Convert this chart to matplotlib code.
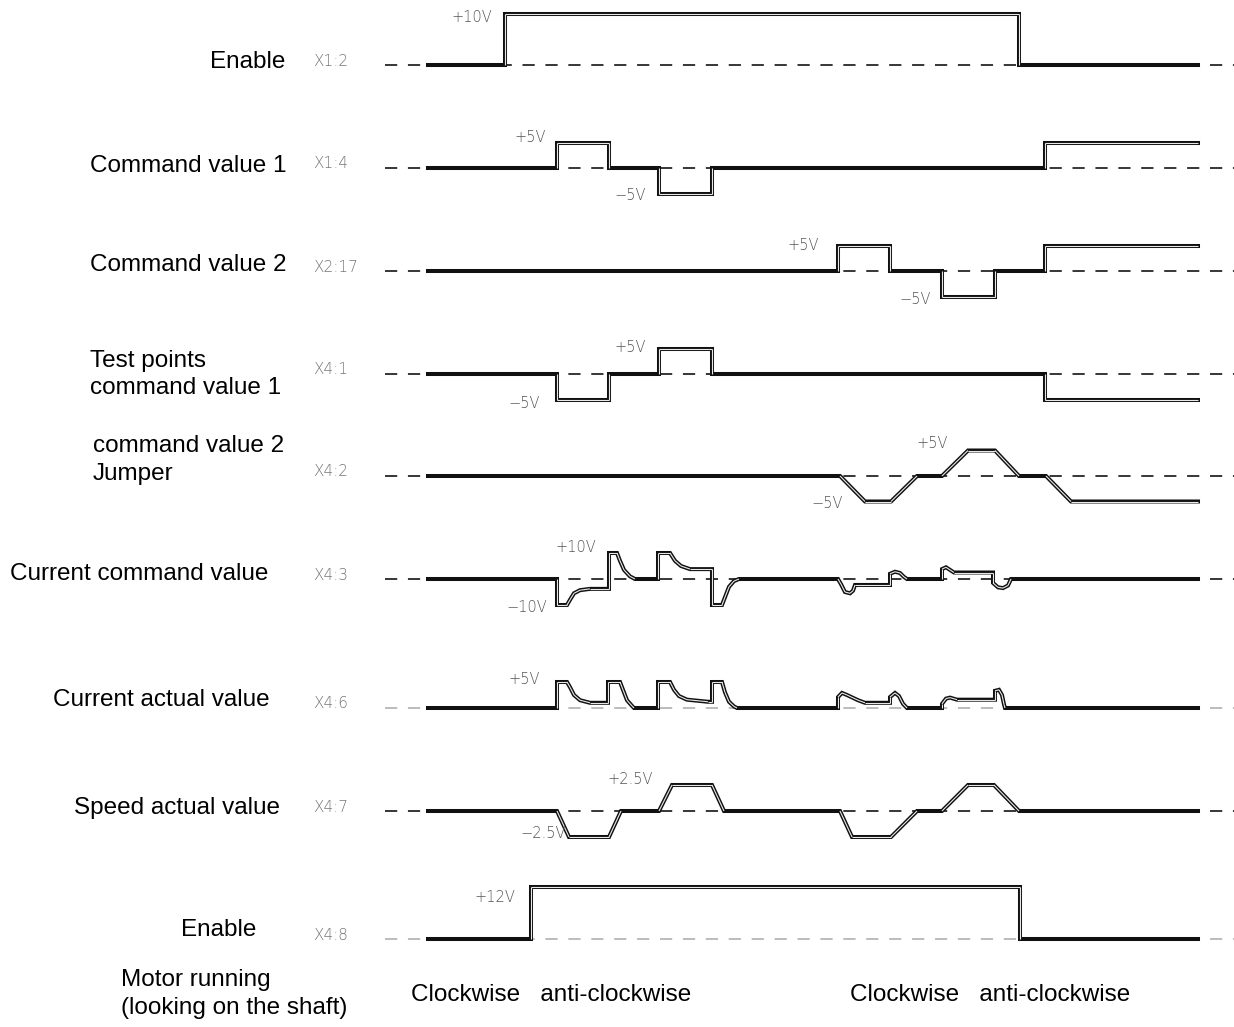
import matplotlib.pyplot as plt
import numpy as np
from matplotlib.collections import LineCollection

# time axis: trace runs from t=0 to t=77 (arbitrary units)
enable1_t = [0, 7.7, 7.7, 59.1, 59.1, 77]
enable1_v = [0, 0, 10, 10, 0, 0]

cmd1_t = [0, 12.9, 12.9, 18.1, 18.1, 23.1, 23.1, 28.4, 28.4, 61.7, 61.7, 77]
cmd1_v = [0, 0, 5, 5, 0, 0, -5, -5, 0, 0, 5, 5]

cmd2_t = [0, 41.0, 41.0, 46.2, 46.2, 51.4, 51.4, 56.7, 56.7, 61.7, 61.7, 77]
cmd2_v = [0, 0, 5, 5, 0, 0, -5, -5, 0, 0, 5, 5]

test_t = [0, 12.9, 12.9, 18.1, 18.1, 23.1, 23.1, 28.4, 28.4, 61.7, 61.7, 77]
test_v = [0, 0, -5, -5, 0, 0, 5, 5, 0, 0, -5, -5]

jumper_t = [0, 41.2, 43.7, 46.3, 48.9, 51.4, 54.0, 56.7, 59.1, 61.8, 64.3, 77]
jumper_v = [0, 0, -5, -5, 0, 0, 5, 5, 0, 0, -5, -5]

icmd_t = [0, 12.9, 12.9, 13.9, 14.2, 14.6, 15.2, 16.2, 18.1, 18.1, 18.9, 19.2, 19.6,
          20.2, 20.7, 23.0, 23.0, 24.2, 24.7, 25.3, 26.2, 28.4, 28.4, 29.4, 29.7,
          30.1, 30.6, 31.1, 41.0, 41.3, 41.7, 42.2, 42.5, 42.7, 46.2, 46.2, 46.7,
          47.2, 47.6, 47.9, 51.4, 51.4, 51.8, 52.2, 52.6, 56.5, 56.5, 57.0, 57.5,
          58.0, 58.3, 77]
icmd_v = [0, 0, -10, -10, -8, -5.5, -4.3, -3.8, -3.8, 10, 10, 7, 3.5,
          1, 0, 0, 10, 10, 7, 5, 3.8, 3.8, -10, -10, -7,
          -3, -0.8, 0, 0, -2, -5, -5.5, -4.5, -2.3, -2.3, 2, 2.8,
          2.3, 0.8, 0, 0, 3.8, 4.5, 3.5, 2.5, 2.5, -1.5, -3.2, -3.5,
          -2.5, 0, 0]

iact_t = [0, 12.9, 12.9, 13.9, 14.2, 14.6, 15.2, 16.2, 18.0, 18.0, 19.2, 19.5, 19.9,
          20.4, 20.6, 23.0, 23.0, 24.2, 24.6, 25.1, 25.9, 28.0, 28.4, 28.4, 29.4,
          29.7, 30.1, 30.6, 30.9, 41.0, 41.0, 41.4, 41.9, 43.0, 43.7, 46.2, 46.2,
          46.7, 47.1, 47.5, 47.9, 51.4, 51.4, 51.8, 52.2, 52.9, 56.7, 56.7, 57.1,
          57.4, 57.6, 57.7, 77]
iact_v = [0, 0, 5, 5, 4, 2.5, 1.5, 1.0, 1.0, 5, 5, 3.5, 1.5,
          0.4, 0, 0, 5, 5, 3.5, 2.3, 1.6, 1.2, 1.2, 5, 5,
          3, 1.2, 0.3, 0, 0, 2.1, 2.9, 2.5, 1.5, 1.0, 1.0, 2.1,
          2.9, 2.3, 0.8, 0, 0, 0.8, 1.8, 2.0, 1.6, 1.6, 3.3, 3.5,
          2.5, 0.7, 0, 0]

speed_t = [0, 12.9, 14.1, 18.1, 19.3, 23.1, 24.4, 28.4, 29.6, 41.2, 42.4, 46.3,
           48.9, 51.4, 54.0, 56.6, 59.1, 77]
speed_v = [0, 0, -2.5, -2.5, 0, 0, 2.5, 2.5, 0, 0, -2.5, -2.5,
           0, 0, 2.5, 2.5, 0, 0]

enable2_t = [0, 10.3, 10.3, 59.2, 59.2, 77]
enable2_v = [0, 0, 12, 12, 0, 0]

signals = [(enable1_t, enable1_v), (cmd1_t, cmd1_v), (cmd2_t, cmd2_v),
           (test_t, test_v), (jumper_t, jumper_v), (icmd_t, icmd_v),
           (iact_t, iact_v), (speed_t, speed_v), (enable2_t, enable2_v)]

pins = ["X1:2", "X1:4", "X2:17", "X4:1", "X4:2", "X4:3", "X4:6", "X4:7", "X4:8"]

# layout: baseline row (pixel units) and pixels per volt
baselines = [65, 168, 271, 374, 476, 579, 708, 811, 939]
px_per_volt = [5.1, 5.1, 5.1, 5.1, 5.1, 2.6, 5.2, 10.4, 4.33]
dash_colors = ["black", "black", "black", "black", "black", "black", "#aaaaaa", "black", "#aaaaaa"]

volt_labels = [
    ("+10V", 4.4, 17), ("+5V", 10.2, 138), ("\u22125V", 20.2, 196),
    ("+5V", 37.5, 246), ("\u22125V", 48.7, 300),
    ("+5V", 20.2, 347), ("\u22125V", 9.6, 403),
    ("+5V", 50.4, 443), ("\u22125V", 39.9, 504),
    ("+10V", 14.8, 548), ("\u221210V", 9.9, 608),
    ("+5V", 9.6, 679),
    ("+2.5V", 20.2, 780), ("\u22122.5V", 11.5, 833),
    ("+12V", 6.7, 897),
]

# (text, left px, centre y px)
row_labels = [
    ("Enable", 210, 59), ("Command value 1", 90, 163), ("Command value 2", 90, 262),
    ("Test points", 90, 358), ("command value 1", 90, 385),
    ("command value 2", 93, 443), ("Jumper", 93, 471),
    ("Current command value", 10, 571), ("Current actual value", 53, 697),
    ("Speed actual value", 74, 805), ("Enable", 181, 927),
    ("Motor running", 121, 977), ("(looking on the shaft)", 121, 1005),
    ("Clockwise   anti-clockwise", 411, 992), ("Clockwise   anti-clockwise", 850, 992),
]

W, H = 1234, 1027
fig = plt.figure(figsize=(W / 100, H / 100), dpi=100)
ax = fig.add_axes([0, 0, 1, 1])
ax.set_xlim(-42.8, 80.6)
ax.set_ylim(H, 0)
ax.axis("off")

for (t, v), base, k, pin, dc in zip(signals, baselines, px_per_volt, pins, dash_colors):
    t = np.array(t)
    y = base - np.array(v) * k
    ax.plot([-4.3, 80.6], [base, base], color=dc, lw=1.1, ls=(0, (8, 7)), zorder=1)
    ax.plot(t, y, color="#111111", lw=2.9, solid_joinstyle="miter", zorder=2)
    v = np.array(v)
    segs = [[(t[i], y[i]), (t[i + 1], y[i + 1])] for i in range(len(t) - 1)
            if not (v[i] == 0 and v[i + 1] == 0)]
    ax.add_collection(LineCollection(segs, colors="#e8e8e8", linewidths=0.8, zorder=3))
    ax.text(-11.5, base - 4, pin, fontsize=11, color="#777777", fontweight="light",
            family="DejaVu Sans", va="center", ha="left")

for s, tx, py in volt_labels:
    ax.text(tx, py, s, fontsize=10.5, color="#555555", fontweight="light",
            family="DejaVu Sans", ha="center", va="center")

for s, px, py in row_labels:
    fig.text(px / W, 1 - (py + 3) / H, s, fontsize=17.5, family="Liberation Sans",
             ha="left", va="center", color="black")

fig.savefig("out.png", dpi=100)
